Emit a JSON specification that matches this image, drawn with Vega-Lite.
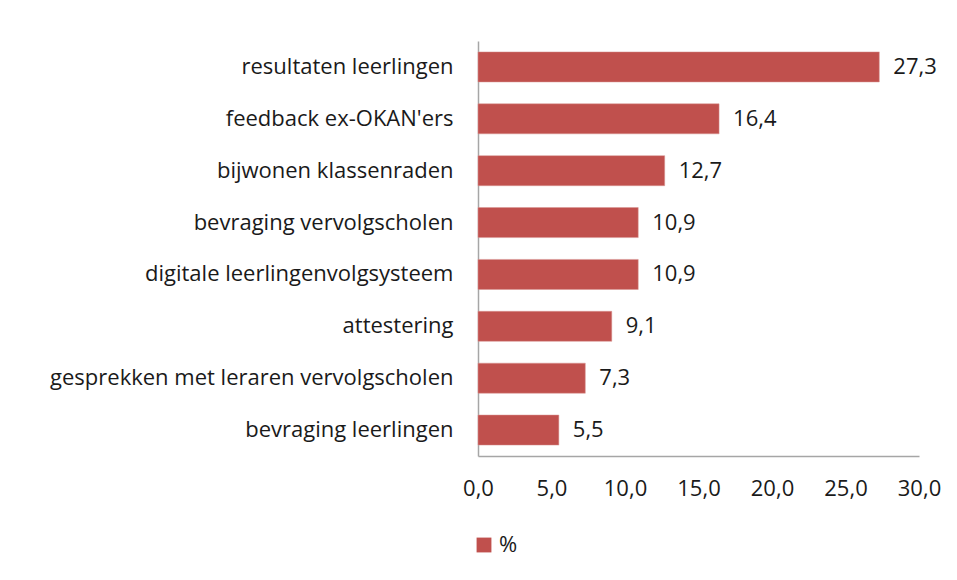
{
  "$schema": "https://vega.github.io/schema/vega-lite/v6.json",
  "autosize": "none",
  "width": 441,
  "height": 415,
  "padding": {"left": 478, "top": 41, "right": 38, "bottom": 124},
  "background": "white",
  "config": {
    "view": {"stroke": null},
    "locale": {"number": {"decimal": ",", "thousands": ".", "grouping": [3], "currency": ["€", ""]}},
    "font": "Open Sans"
  },
  "data": {
    "values": [
      {"item": "resultaten leerlingen", "pct": 27.3},
      {"item": "feedback ex-OKAN'ers", "pct": 16.4},
      {"item": "bijwonen klassenraden", "pct": 12.7},
      {"item": "bevraging vervolgscholen", "pct": 10.9},
      {"item": "digitale leerlingenvolgsysteem", "pct": 10.9},
      {"item": "attestering", "pct": 9.1},
      {"item": "gesprekken met leraren vervolgscholen", "pct": 7.3},
      {"item": "bevraging leerlingen", "pct": 5.5}
    ]
  },
  "encoding": {
    "y": {
      "field": "item",
      "type": "nominal",
      "sort": null,
      "scale": {"paddingInner": 0.42, "paddingOuter": 0.21},
      "axis": {
        "title": null,
        "ticks": false,
        "domainColor": "#A6A6A6",
        "domainWidth": 1.5,
        "labelFontSize": 22,
        "labelColor": "#1a1a1a",
        "labelPadding": 25,
        "labelLimit": 470,
        "labelFont": "Open Sans"
      }
    },
    "x": {
      "field": "pct",
      "type": "quantitative",
      "scale": {"domain": [0, 30]},
      "axis": {
        "title": null,
        "values": [0, 5, 10, 15, 20, 25, 30],
        "format": ".1f",
        "grid": false,
        "ticks": false,
        "labelFlush": false,
        "labelOverlap": false,
        "domainColor": "#A6A6A6",
        "domainWidth": 1.5,
        "labelFontSize": 22,
        "labelColor": "#1a1a1a",
        "labelPadding": 22,
        "labelFont": "Open Sans"
      }
    }
  },
  "layer": [
    {
      "mark": {"type": "bar", "stroke": "#D99694", "strokeWidth": 0.5},
      "encoding": {
        "color": {
          "datum": "%",
          "scale": {"range": ["#C0504D"]},
          "legend": {
            "title": null,
            "orient": "none",
            "legendX": -5,
            "legendY": 493,
            "symbolType": "square",
            "symbolSize": 220,
            "symbolStrokeWidth": 0,
            "labelFontSize": 22,
            "labelColor": "#1a1a1a",
            "labelFont": "Open Sans",
            "labelOffset": 4
          }
        }
      }
    },
    {
      "mark": {"type": "text", "align": "left", "dx": 14, "fontSize": 22, "color": "#1a1a1a", "font": "Open Sans"},
      "encoding": {
        "text": {"field": "pct", "type": "quantitative", "format": ".1f"}
      }
    }
  ]
}
